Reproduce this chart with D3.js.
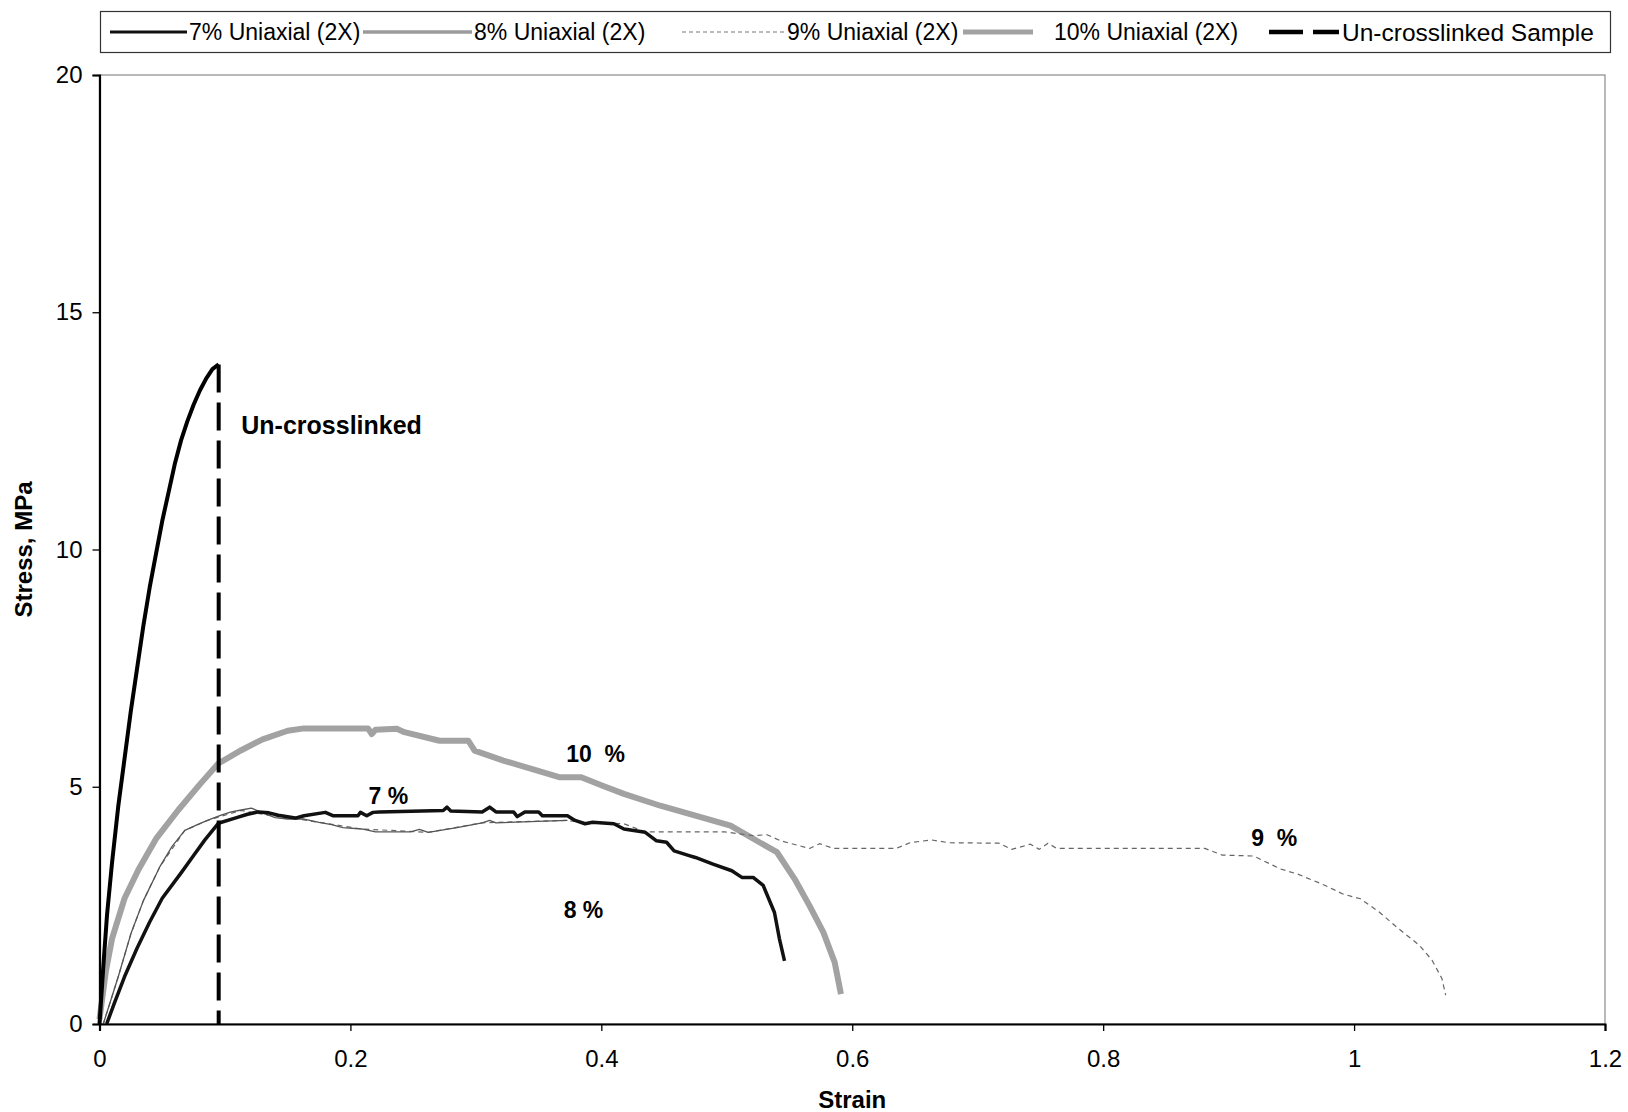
<!DOCTYPE html>
<html>
<head>
<meta charset="utf-8">
<script src="https://cdnjs.cloudflare.com/ajax/libs/d3/7.8.5/d3.min.js"></script>
<style>
  body { margin: 0; background: white; }
  svg { display: block; font-family: "Liberation Sans", Arial, sans-serif; }
</style>
</head>
<body>
<svg></svg>
<script>
var w = 1628;
var h = 1112;

// series data (strain, stress in MPa)
var uncStrain = [0, 0.003, 0.006, 0.01, 0.015, 0.02, 0.025, 0.03, 0.035, 0.04, 0.045, 0.05, 0.055, 0.06, 0.065, 0.07, 0.075, 0.08, 0.085, 0.09, 0.095];
var uncStress = [0, 1.2, 2.3, 3.4, 4.6, 5.6, 6.6, 7.5, 8.4, 9.2, 9.9, 10.6, 11.2, 11.8, 12.3, 12.7, 13.05, 13.35, 13.6, 13.8, 13.9];
var uncDropStrain = [0.095, 0.095];
var uncDropStress = [13.9, 0];

var s7Strain = [0.0057, 0.012, 0.02, 0.03, 0.04, 0.05, 0.0655, 0.075, 0.084, 0.0947, 0.108, 0.118, 0.1266, 0.135, 0.1425, 0.156, 0.163, 0.18, 0.186, 0.206, 0.208, 0.213, 0.218, 0.223, 0.274, 0.277, 0.28, 0.305, 0.311, 0.316, 0.33, 0.333, 0.339, 0.35, 0.353, 0.373, 0.379, 0.387, 0.393, 0.41, 0.418, 0.435, 0.444, 0.452, 0.458, 0.47, 0.475, 0.489, 0.504, 0.512, 0.521, 0.529, 0.538, 0.542, 0.546];
var s7Stress = [0, 0.45, 1.0, 1.6, 2.15, 2.65, 3.2, 3.55, 3.88, 4.23, 4.34, 4.42, 4.47, 4.45, 4.4, 4.34, 4.39, 4.46, 4.39, 4.39, 4.46, 4.39, 4.46, 4.47, 4.5, 4.57, 4.49, 4.47, 4.57, 4.47, 4.47, 4.37, 4.47, 4.47, 4.39, 4.39, 4.29, 4.22, 4.25, 4.22, 4.11, 4.04, 3.86, 3.83, 3.65, 3.55, 3.51, 3.37, 3.23, 3.09, 3.09, 2.92, 2.35, 1.79, 1.33];

var s8Strain = [0.003, 0.015, 0.025, 0.035, 0.048, 0.058, 0.068, 0.078, 0.087, 0.097, 0.105, 0.113, 0.121, 0.13, 0.14, 0.15, 0.163, 0.175, 0.185, 0.194, 0.209, 0.22, 0.248, 0.255, 0.262, 0.285, 0.305, 0.311, 0.316, 0.373];
var s8Stress = [0, 1.0, 1.9, 2.6, 3.31, 3.75, 4.08, 4.2, 4.3, 4.4, 4.47, 4.51, 4.55, 4.45, 4.35, 4.32, 4.32, 4.25, 4.2, 4.14, 4.11, 4.05, 4.05, 4.1, 4.04, 4.14, 4.24, 4.29, 4.24, 4.29];

var s9Strain = [0.003, 0.015, 0.025, 0.035, 0.048, 0.068, 0.087, 0.113, 0.13, 0.163, 0.209, 0.262, 0.305, 0.373, 0.384, 0.418, 0.435, 0.498, 0.521, 0.532, 0.543, 0.566, 0.574, 0.585, 0.635, 0.646, 0.663, 0.677, 0.717, 0.727, 0.742, 0.749, 0.756, 0.763, 0.881, 0.895, 0.92, 0.941, 0.955, 0.977, 0.991, 1.005, 1.02, 1.034, 1.052, 1.062, 1.07, 1.073];
var s9Stress = [0, 1.0, 1.9, 2.6, 3.31, 4.08, 4.3, 4.5, 4.42, 4.3, 4.11, 4.04, 4.24, 4.29, 4.25, 4.22, 4.05, 4.05, 3.97, 3.99, 3.86, 3.7, 3.8, 3.7, 3.7, 3.82, 3.88, 3.82, 3.81, 3.68, 3.79, 3.68, 3.81, 3.7, 3.7, 3.56, 3.54, 3.27, 3.16, 2.92, 2.74, 2.64, 2.36, 2.04, 1.66, 1.35, 0.96, 0.61];

var s10Strain = [0, 0.005, 0.01, 0.02, 0.031, 0.045, 0.0628, 0.08, 0.0947, 0.113, 0.13, 0.15, 0.163, 0.214, 0.217, 0.22, 0.237, 0.243, 0.271, 0.294, 0.299, 0.322, 0.345, 0.367, 0.384, 0.401, 0.418, 0.447, 0.475, 0.503, 0.526, 0.54, 0.554, 0.566, 0.577, 0.586, 0.591];
var s10Stress = [0.1, 1.1, 1.8, 2.65, 3.25, 3.9, 4.51, 5.05, 5.49, 5.77, 6.0, 6.18, 6.23, 6.23, 6.11, 6.2, 6.22, 6.15, 5.97, 5.97, 5.76, 5.55, 5.37, 5.2, 5.2, 5.02, 4.85, 4.6, 4.39, 4.18, 3.83, 3.62, 3.06, 2.49, 1.93, 1.3, 0.63];

var xTicks = [0, 0.2, 0.4, 0.6, 0.8, 1, 1.2];
var yTicks = [0, 5, 10, 15, 20];

var legendNames = ["7% Uniaxial (2X)", "8% Uniaxial (2X)", "9% Uniaxial (2X)", "10% Uniaxial (2X)", "Un-crosslinked Sample"];

var noteText = ["Un-crosslinked", "10  %", "7 %", "8 %", "9  %"];
var noteStrain = [0.113, 0.372, 0.2145, 0.37, 0.918];
var noteStress = [12.43, 5.52, 4.64, 2.23, 3.76];

// styles
var styles = {
	s7: { stroke: "#111", width: 3.5, dash: null },
	s8: { stroke: "#555", width: 1.3, dash: null },
	s9: { stroke: "#666", width: 1.2, dash: "5,4" },
	s10: { stroke: "#a2a2a2", width: 6, dash: null },
	unc: { stroke: "#000", width: 4, dash: null },
	uncDrop: { stroke: "#000", width: 4, dash: "28,10" }
};
var legendStyles = [
	{ stroke: "#111", width: 3, dash: null },
	{ stroke: "#9a9a9a", width: 3.5, dash: null },
	{ stroke: "#777", width: 1.2, dash: "4,3" },
	{ stroke: "#a2a2a2", width: 5, dash: null },
	{ stroke: "#000", width: 4.5, dash: "34,10" }
];
var legendX = [110, 363, 682, 963, 1269];
var legendLen = [77, 109, 102, 70, 70];
var legendTextX = [189, 474, 787, 1054, 1342];

var canvas = d3.select("svg")
	.attr("width", w)
	.attr("height", h)
	.style("background-color", "white");

var x = d3.scaleLinear().domain([0, 1.2]).range([99.5, 1605]);
var y = d3.scaleLinear().domain([0, 20]).range([1024, 75]);

// plot frame (top/right thin)
canvas.append("rect")
	.attr("x", x(0))
	.attr("y", y(20))
	.attr("width", x(1.2) - x(0))
	.attr("height", y(0) - y(20))
	.attr("fill", "none")
	.attr("stroke", "#8a8a8a")
	.attr("stroke-width", 1.2);

var line = d3.line()
	.x(function (d) { return x(d[0]); })
	.y(function (d) { return y(d[1]); });

var series = [
	{ data: d3.zip(s10Strain, s10Stress), style: styles.s10 },
	{ data: d3.zip(s9Strain, s9Stress), style: styles.s9 },
	{ data: d3.zip(s8Strain, s8Stress), style: styles.s8 },
	{ data: d3.zip(s7Strain, s7Stress), style: styles.s7 },
	{ data: d3.zip(uncStrain, uncStress), style: styles.unc },
	{ data: d3.zip(uncDropStrain, uncDropStress), style: styles.uncDrop }
];

canvas.selectAll("path.series")
	.data(series)
	.join("path")
	.attr("class", "series")
	.attr("d", function (d) { return line(d.data); })
	.attr("fill", "none")
	.attr("stroke", function (d) { return d.style.stroke; })
	.attr("stroke-width", function (d) { return d.style.width; })
	.attr("stroke-dasharray", function (d) { return d.style.dash; })
	.attr("stroke-linejoin", "round");

// axes
var xAxis = canvas.append("g")
	.attr("transform", "translate(0," + y(0) + ")")
	.call(d3.axisBottom(x).tickValues(xTicks).tickSize(7).tickPadding(19)
		.tickFormat(function (d) { return String(+d.toFixed(1)); }));
var yAxis = canvas.append("g")
	.attr("transform", "translate(" + x(0) + ",0)")
	.call(d3.axisLeft(y).tickValues(yTicks).tickSize(7).tickPadding(10));

[xAxis, yAxis].forEach(function (g) {
	g.select(".domain").attr("stroke", "#000").attr("stroke-width", 2.2);
	g.selectAll(".tick line").attr("stroke", "#000").attr("stroke-width", 1.3);
	g.selectAll(".tick text")
		.attr("fill", "#000")
		.style("font-size", "24px")
		.style("font-family", "'Liberation Sans', Arial, sans-serif");
});

// axis titles
canvas.append("text")
	.attr("x", (x(0) + x(1.2)) / 2)
	.attr("y", 1108)
	.attr("text-anchor", "middle")
	.style("font-size", "24px")
	.style("font-weight", "bold")
	.text("Strain");

canvas.append("text")
	.attr("transform", "translate(32," + (y(0) + y(20)) / 2 + ") rotate(-90)")
	.attr("text-anchor", "middle")
	.style("font-size", "24px")
	.style("font-weight", "bold")
	.text("Stress, MPa");

// annotations
canvas.selectAll("text.note")
	.data(noteText)
	.join("text")
	.attr("class", "note")
	.attr("x", function (d, i) { return x(noteStrain[i]); })
	.attr("y", function (d, i) { return y(noteStress[i]); })
	.attr("xml:space", "preserve")
	.style("white-space", "pre")
	.style("font-size", function (d, i) { return i === 0 ? "25px" : "23px"; })
	.style("font-weight", "bold")
	.text(function (d) { return d; });

// legend
var legend = canvas.append("g");
legend.append("rect")
	.attr("x", 100.5)
	.attr("y", 11.5)
	.attr("width", 1510)
	.attr("height", 41)
	.attr("fill", "white")
	.attr("stroke", "#333")
	.attr("stroke-width", 1.2);

var items = legend.selectAll("g.item")
	.data(legendNames)
	.join("g")
	.attr("class", "item")
	.attr("transform", "translate(0,32)");

items.append("line")
	.attr("x1", function (d, i) { return legendX[i]; })
	.attr("x2", function (d, i) { return legendX[i] + legendLen[i]; })
	.attr("stroke", function (d, i) { return legendStyles[i].stroke; })
	.attr("stroke-width", function (d, i) { return legendStyles[i].width; })
	.attr("stroke-dasharray", function (d, i) { return legendStyles[i].dash; });

items.append("text")
	.attr("x", function (d, i) { return legendTextX[i]; })
	.attr("dy", "0.36em")
	.style("font-size", function (d, i) { return i === 4 ? "24.5px" : "23px"; })
	.text(function (d) { return d; });
</script>
</body>
</html>
